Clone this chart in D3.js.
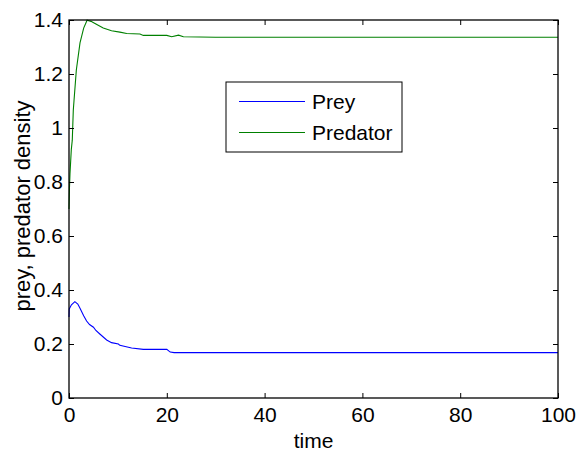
<!DOCTYPE html>
<html><head><meta charset="utf-8">
<script src="https://cdn.jsdelivr.net/npm/d3@7/dist/d3.min.js"></script>
<style>
html,body{margin:0;padding:0;background:#fff;}
text{font-family:"Liberation Sans",Arial,Helvetica,sans-serif;fill:#000;}
</style></head>
<body>
<svg id="chart" width="586" height="454"></svg>
<script>
const xTicks = [0, 20, 40, 60, 80, 100];
const yTicks = [0, 0.2, 0.4, 0.6, 0.8, 1, 1.2, 1.4];
const yTickLabels = ["0", "0.2", "0.4", "0.6", "0.8", "1", "1.2", "1.4"];
const seriesNames = ["Prey", "Predator"];
const seriesColors = ["#0000ff", "#008000"];
const preyT = [0, 0.05, 0.5, 1.2, 1.8, 2.25, 3, 3.6, 4.2, 5, 5.5, 6.3, 7.7, 8.7, 10.1, 10.4, 12.8, 15.2, 20, 20.7, 21.5, 40, 60, 80, 100];
const preyV = [0.30, 0.33, 0.345, 0.357, 0.348, 0.332, 0.305, 0.285, 0.272, 0.262, 0.25, 0.237, 0.215, 0.205, 0.20, 0.195, 0.185, 0.18, 0.18, 0.17, 0.168, 0.168, 0.168, 0.168, 0.168];
const predT = [0, 0.1, 0.2, 0.47, 0.67, 0.88, 1.02, 1.5, 2.25, 3, 3.7, 4.5, 5.5, 7, 8.7, 10.4, 11.8, 14.5, 15.2, 20, 21, 22.4, 23.4, 30, 60, 100];
const predV = [0.70, 0.78, 0.83, 0.92, 0.955, 1.067, 1.10, 1.215, 1.315, 1.37, 1.399, 1.395, 1.385, 1.37, 1.36, 1.355, 1.35, 1.348, 1.343, 1.343, 1.338, 1.344, 1.338, 1.336, 1.336, 1.336];

const svg = d3.select("#chart");
const m = {left: 69, right: 558, top: 20, bottom: 398};
const x = d3.scaleLinear().domain([0, 100]).range([m.left, m.right]);
const y = d3.scaleLinear().domain([0, 1.4]).range([m.bottom, m.top]);
const FS = 21;

const series = [
  {name: seriesNames[0], color: seriesColors[0], pts: preyT.map((t, i) => [t, preyV[i]])},
  {name: seriesNames[1], color: seriesColors[1], pts: predT.map((t, i) => [t, predV[i]])}
];
const line = d3.line().x(d => x(d[0])).y(d => y(d[1]));
svg.append("g").selectAll("path").data(series).join("path")
  .attr("d", d => line(d.pts)).attr("fill", "none")
  .attr("stroke", d => d.color).attr("stroke-width", 1.1);

// axes with inward ticks
const tl = 5;
const bottomAxis = d3.axisBottom(x).tickValues(xTicks).tickSizeInner(-tl).tickSizeOuter(0).tickPadding(tl + 4);
const gB = svg.append("g").attr("transform", `translate(0,${m.bottom})`).call(bottomAxis);
const topAxis = d3.axisTop(x).tickValues(xTicks).tickSizeInner(-tl).tickSizeOuter(0).tickFormat("");
const gT = svg.append("g").attr("transform", `translate(0,${m.top})`).call(topAxis);
const leftAxis = d3.axisLeft(y).tickValues(yTicks).tickSizeInner(-tl).tickSizeOuter(0).tickPadding(tl + 1)
  .tickFormat((d, i) => yTickLabels[i]);
const gL = svg.append("g").attr("transform", `translate(${m.left},0)`).call(leftAxis);
const rightAxis = d3.axisRight(y).tickValues(yTicks).tickSizeInner(-tl).tickSizeOuter(0).tickFormat("");
const gR = svg.append("g").attr("transform", `translate(${m.right},0)`).call(rightAxis);
[gB, gT, gL, gR].forEach(g => {
  g.select(".domain").remove();
  g.selectAll(".tick line").attr("stroke", "#000").attr("stroke-width", 1);
  g.selectAll("text").attr("font-size", FS).attr("font-family", null);
});
gB.selectAll(".tick text").attr("dy", "0.71em");

svg.append("rect").attr("x", m.left).attr("y", m.top)
  .attr("width", m.right - m.left).attr("height", m.bottom - m.top)
  .attr("fill", "none").attr("stroke", "#000").attr("stroke-width", 1.3);

svg.append("text").attr("x", (m.left + m.right) / 2).attr("y", 448)
  .attr("text-anchor", "middle").attr("font-size", FS).text("time");
svg.append("text").attr("transform", `translate(30,${(m.top + m.bottom) / 2 - 3}) rotate(-90)`)
  .attr("text-anchor", "middle").attr("font-size", 22).text("prey, predator density");

// legend
const lg = svg.append("g");
lg.append("rect").attr("x", 226).attr("y", 82).attr("width", 176).attr("height", 70)
  .attr("fill", "#fff").attr("stroke", "#000").attr("stroke-width", 1);
series.forEach((s, i) => {
  const yy = 101.5 + i * 31;
  lg.append("line").attr("x1", 239).attr("x2", 305).attr("y1", yy).attr("y2", yy)
    .attr("stroke", s.color).attr("stroke-width", 1);
  lg.append("text").attr("x", 312).attr("y", yy).attr("dy", "0.35em")
    .attr("font-size", FS).text(s.name);
});
</script>
</body></html>
